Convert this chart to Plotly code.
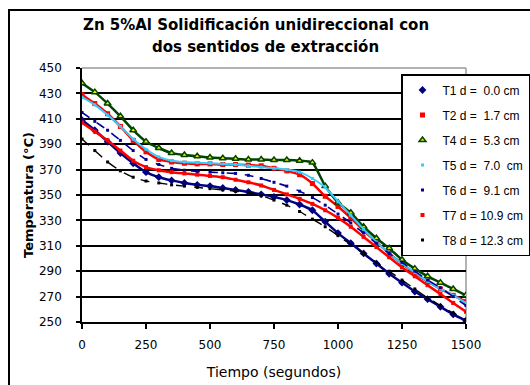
import plotly.graph_objects as go

tiempo = [0, 50, 100, 150, 200, 250, 300, 350, 400, 450, 500, 550, 600, 650, 700, 750,
          800, 850, 900, 950, 1000, 1050, 1100, 1150, 1200, 1250, 1300, 1350, 1400, 1450, 1500]

t1 = [409, 401, 392, 383, 375, 368, 364, 361.5, 359.5, 358, 357, 355.5, 354, 352.5, 350.5, 348.5,
      346, 342.5, 338, 329, 320, 312, 304, 296, 288, 281, 274, 268, 262, 256, 251]
t2 = [429, 422, 414, 404, 393, 384, 378, 376, 375, 374.5, 374.5, 374, 374, 373.5, 373, 371,
      369, 366, 359, 349, 341, 332, 322, 313, 304, 296, 288, 282, 276, 271, 266]
t4 = [438, 431, 422, 412, 401, 392, 387, 383, 381.5, 380.5, 379.5, 379, 378.5, 378, 378, 377.5,
      377.5, 377, 375.5, 357, 344, 336, 325, 316, 308, 299, 292, 286, 281, 276, 271]
t5 = [427, 421, 413, 404, 394, 386, 380, 377, 376, 375.5, 375, 374.5, 374, 373, 372, 371,
      370, 368, 363, 356, 345, 334, 323, 313, 304, 296, 289, 282, 276, 271, 265]
t6 = [415, 408, 401, 393, 385, 378, 374, 371, 369.5, 368.5, 368, 367.5, 367, 365.5, 363, 360,
      357, 353, 348, 342, 335, 328, 320, 312, 304, 297, 290, 283, 277, 270, 263]
t7 = [407, 400, 393, 385, 377, 372, 369.5, 368, 367, 366, 365, 364, 362, 360, 357.5, 354,
      350.5, 347, 343, 338, 332, 325, 317, 309, 301, 293, 286, 279, 272, 265, 258]
t8 = [394, 385, 376, 369, 364, 361, 359.5, 358, 357, 356, 355, 354, 353, 352, 349.5, 346,
      342, 337, 331, 325, 318, 311, 304, 297, 290, 283, 276, 269, 263, 257, 252]

nombres = ["T1 d =  0.0 cm", "T2 d =  1.7 cm", "T4 d =  5.3 cm", "T5 d =  7.0  cm",
           "T6 d =  9.1 cm", "T7 d = 10.9 cm", "T8 d = 12.3 cm"]
series = [t1, t2, t4, t5, t6, t7, t8]

estilos = [
    dict(lc="#000080", mc="#000080", ml="#000080", mlw=0, symbol="diamond", size=6, lw=2.5, dash="solid"),
    dict(lc="#FF0000", mc="#FF0000", ml="#FF0000", mlw=0, symbol="square", size=5, lw=2.5, dash="solid"),
    dict(lc="#004400", mc="#E8E800", ml="#004400", mlw=1.5, symbol="triangle-up", size=6, lw=2.5, dash="solid"),
    dict(lc="#33CCFF", mc="#33CCFF", ml="#33CCFF", mlw=0, symbol="square", size=3, lw=2, dash="solid"),
    dict(lc="#000099", mc="#000099", ml="#000099", mlw=0, symbol="square", size=3, lw=1.6, dash="dash"),
    dict(lc="#FF0000", mc="#FF0000", ml="#FF0000", mlw=0, symbol="square", size=4, lw=2.5, dash="solid"),
    dict(lc="#000000", mc="#000000", ml="#000000", mlw=0, symbol="square", size=3, lw=1.4, dash="dash"),
]

FONT = "DejaVu Sans, Verdana, sans-serif"
LFONT = "Liberation Sans, Arial, sans-serif"

fig = go.Figure()
for i, (nm, ys, st) in enumerate(zip(nombres, series, estilos)):
    fig.add_trace(go.Scatter(
        x=tiempo, y=ys, name=nm, mode="lines", showlegend=False, legendgroup=f"g{i}",
        line=dict(color=st["lc"], width=st["lw"], dash=st["dash"], shape="spline", smoothing=0.5),
        hoverinfo="skip",
    ))
    fig.add_trace(go.Scatter(
        x=tiempo, y=ys, name=nm, mode="markers", legendgroup=f"g{i}",
        marker=dict(symbol=st["symbol"], size=st["size"], color=st["mc"],
                    line=dict(color=st["ml"], width=st["mlw"])),
    ))

L, R, T, B = 82, 64, 68, 63
W, H = 530, 385
pw, ph = W - L - R, H - T - B

def px(x):
    return (x - L) / pw

def py(y):
    return (H - B - y) / ph

fig.update_layout(
    width=W, height=H,
    margin=dict(l=L, r=R, t=T, b=B, autoexpand=False),
    paper_bgcolor="white", plot_bgcolor="white",
    font=dict(family=FONT, color="black", size=12),
    annotations=[
        dict(text="<b>Zn 5%Al Solidificación unidireccional con</b>", xref="paper", yref="paper",
             x=px(256), y=py(25), xanchor="center", yanchor="middle", showarrow=False,
             font=dict(size=15)),
        dict(text="<b>dos sentidos de extracción</b>", xref="paper", yref="paper",
             x=px(265), y=py(47), xanchor="center", yanchor="middle", showarrow=False,
             font=dict(size=15)),
    ],
    legend=dict(x=px(401), y=py(74), xanchor="left", yanchor="top",
                bgcolor="white", bordercolor="black", borderwidth=1.5,
                font=dict(size=12, family=LFONT), traceorder="grouped", tracegroupgap=6,
                itemwidth=30),
    showlegend=True,
    xaxis=dict(range=[0, 1500], tickvals=[0, 250, 500, 750, 1000, 1250, 1500],
               showgrid=False, zeroline=False, showline=True, linecolor="black", linewidth=1.5,
               ticks="outside", ticklen=5, tickcolor="black", tickwidth=1.5,
               ticklabelstandoff=6, tickfont=dict(size=12), automargin=False,
               title=dict(text="Tiempo (segundos)", font=dict(size=14), standoff=16)),
    yaxis=dict(range=[250, 450], tickvals=list(range(250, 451, 20)),
               showgrid=True, gridcolor="black", gridwidth=1.5, zeroline=False,
               showline=True, linecolor="black", linewidth=1.5,
               ticks="outside", ticklen=4, tickcolor="black", tickwidth=1.5,
               ticklabelstandoff=12, tickfont=dict(size=12), automargin=False,
               title=dict(text="<b>Temperatura (°C)</b>", font=dict(size=13), standoff=2)),
    shapes=[
        dict(type="line", xref="paper", yref="paper", x0=0, x1=1, y0=1, y1=1,
             line=dict(color="#9a9a9a", width=1.5), layer="between"),
        dict(type="line", xref="paper", yref="paper", x0=1, x1=1, y0=0, y1=1,
             line=dict(color="#9a9a9a", width=1.5), layer="between"),
        dict(type="rect", xref="paper", yref="paper", x0=px(9), x1=px(533), y0=py(10), y1=py(390),
             line=dict(color="black", width=2), layer="above"),
    ],
)

fig.write_html("out.html")
